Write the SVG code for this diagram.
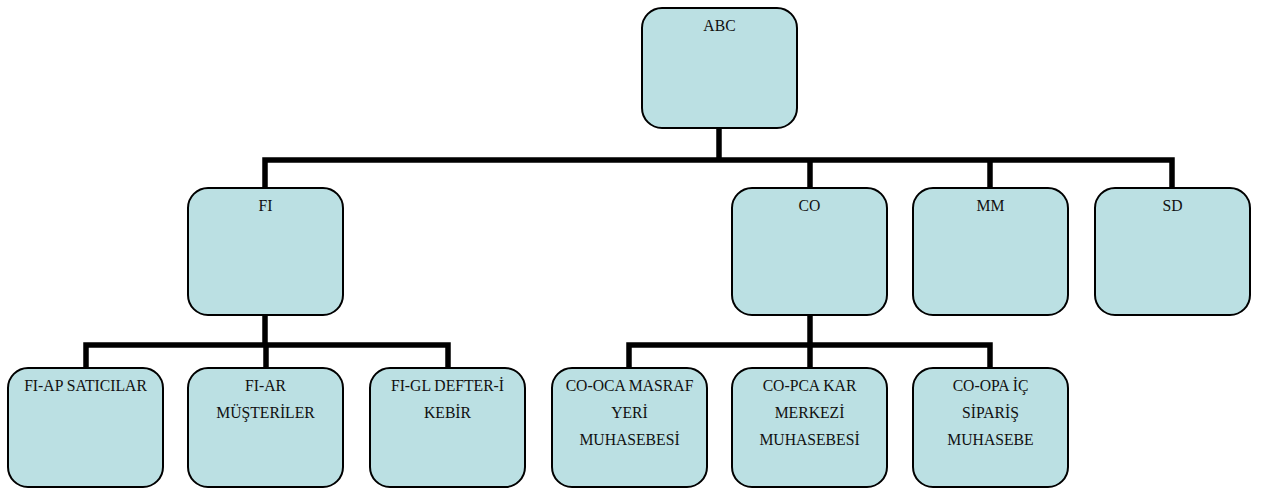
<svg xmlns="http://www.w3.org/2000/svg" width="1269" height="488" viewBox="0 0 1269 488">
  <style>
    .box { fill: #bbe0e3; stroke: #000; stroke-width: 2; }
    .lbl { font-family: "Liberation Serif", "Times New Roman", serif; font-size: 15.7px; fill: #111; text-anchor: middle; }
    .wire { fill: none; stroke: #000; stroke-width: 5.5; stroke-linecap: butt; stroke-linejoin: miter; }
  </style>
  <rect width="1269" height="488" fill="#ffffff"/>

  <!-- connectors -->
  <g id="connectors">
    <path class="wire" d="M719 128 V160"/>
    <path class="wire" d="M265 188 V160 H1172 V188"/>
    <path class="wire" d="M810 160 V188"/>
    <path class="wire" d="M990 160 V188"/>
    <path class="wire" d="M265 315 V345"/>
    <path class="wire" d="M86 368 V345 H448 V368"/>
    <path class="wire" d="M266 345 V368"/>
    <path class="wire" d="M810 315 V345"/>
    <path class="wire" d="M629 368 V345 H990 V368"/>
    <path class="wire" d="M810 345 V368"/>
  </g>

  <!-- top level -->
  <g id="abc">
    <rect class="box" x="642" y="8" width="155" height="120" rx="20"/>
    <text class="lbl" x="719.5" y="31">ABC</text>
  </g>

  <!-- second level -->
  <g id="fi">
    <rect class="box" x="188" y="188" width="155" height="127" rx="20"/>
    <text class="lbl" x="265.5" y="211">FI</text>
  </g>
  <g id="co">
    <rect class="box" x="732" y="188" width="155" height="127" rx="20"/>
    <text class="lbl" x="809.5" y="211">CO</text>
  </g>
  <g id="mm">
    <rect class="box" x="913" y="188" width="155" height="127" rx="20"/>
    <text class="lbl" x="990.5" y="211">MM</text>
  </g>
  <g id="sd">
    <rect class="box" x="1095" y="188" width="155" height="127" rx="20"/>
    <text class="lbl" x="1172.5" y="211">SD</text>
  </g>

  <!-- third level -->
  <g id="fi-ap">
    <rect class="box" x="8" y="368" width="155" height="119" rx="20"/>
    <text class="lbl" x="85.5" y="391">FI-AP SATICILAR</text>
  </g>
  <g id="fi-ar">
    <rect class="box" x="188" y="368" width="155" height="119" rx="20"/>
    <text class="lbl" x="265.5" y="391">FI-AR</text>
    <text class="lbl" x="265.5" y="418">MÜŞTERİLER</text>
  </g>
  <g id="fi-gl">
    <rect class="box" x="370" y="368" width="155" height="119" rx="20"/>
    <text class="lbl" x="447.5" y="391">FI-GL DEFTER-İ</text>
    <text class="lbl" x="447.5" y="418">KEBİR</text>
  </g>
  <g id="co-oca">
    <rect class="box" x="552" y="368" width="155" height="119" rx="20"/>
    <text class="lbl" x="629.5" y="391">CO-OCA MASRAF</text>
    <text class="lbl" x="629.5" y="418">YERİ</text>
    <text class="lbl" x="629.5" y="445">MUHASEBESİ</text>
  </g>
  <g id="co-pca">
    <rect class="box" x="732" y="368" width="155" height="119" rx="20"/>
    <text class="lbl" x="809.5" y="391">CO-PCA KAR</text>
    <text class="lbl" x="809.5" y="418">MERKEZİ</text>
    <text class="lbl" x="809.5" y="445">MUHASEBESİ</text>
  </g>
  <g id="co-opa">
    <rect class="box" x="913" y="368" width="155" height="119" rx="20"/>
    <text class="lbl" x="990.5" y="391">CO-OPA İÇ</text>
    <text class="lbl" x="990.5" y="418">SİPARİŞ</text>
    <text class="lbl" x="990.5" y="445">MUHASEBE</text>
  </g>
</svg>
